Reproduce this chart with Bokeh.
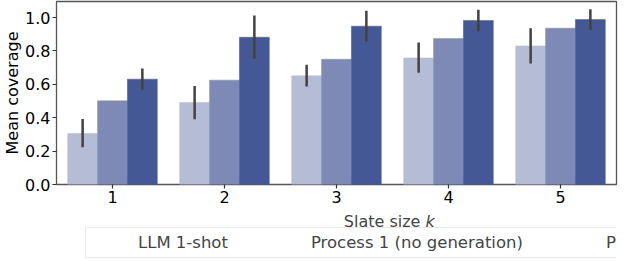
from bokeh.plotting import figure
from bokeh.layouts import column
from bokeh.models import (ColumnDataSource, Range1d, Legend, LegendItem, Label,
                          FixedTicker, PrintfTickFormatter)
from bokeh.transform import dodge
from bokeh.embed import file_html
from bokeh.resources import INLINE

slate_sizes = [1, 2, 3, 4, 5]
series_names = ["LLM 1-shot", "Process 1 (no generation)", "Process 1"]

llm_mean = [0.305, 0.491, 0.651, 0.758, 0.830]
llm_lo = [0.223, 0.391, 0.587, 0.669, 0.725]
llm_hi = [0.393, 0.590, 0.717, 0.850, 0.936]

nogen_mean = [0.501, 0.625, 0.750, 0.874, 0.936]

proc_mean = [0.631, 0.882, 0.948, 0.982, 0.988]
proc_lo = [0.567, 0.753, 0.856, 0.918, 0.926]
proc_hi = [0.695, 1.012, 1.040, 1.046, 1.050]

y_ticks = [0.0, 0.2, 0.4, 0.6, 0.8, 1.0]

colors = ["#b5bcd5", "#7e8ab5", "#445896"]
FONT = "DejaVu Sans"
FS = "16px"

src = ColumnDataSource(dict(
    k=slate_sizes,
    llm=llm_mean, llm_lo=llm_lo, llm_hi=llm_hi,
    nogen=nogen_mean,
    proc=proc_mean, proc_lo=proc_lo, proc_hi=proc_hi,
))

# ---------------- main chart ----------------
p = figure(width=640, height=210, output_backend="svg", toolbar_location=None,
           x_range=Range1d(0.5, 5.5), y_range=Range1d(0, 1.096),
           min_border_left=51, min_border_right=24, min_border_top=1,
           min_border_bottom=26)
p.background_fill_color = "white"
p.border_fill_color = "white"
p.outline_line_color = "#555555"
p.outline_line_width = 1.3
p.xgrid.visible = False
p.ygrid.visible = False

bw = 0.8 / 3
offsets = [-bw, 0.0, bw]
fields = ["llm", "nogen", "proc"]
for f, off, c in zip(fields, offsets, colors):
    p.vbar(x=dodge("k", off, range=p.x_range), top=f, bottom=0, width=bw,
           source=src, fill_color=c, line_color=c, line_width=0.5)

for lo, hi, off in [("llm_lo", "llm_hi", -bw), ("proc_lo", "proc_hi", bw)]:
    p.segment(x0=dodge("k", off, range=p.x_range), x1=dodge("k", off, range=p.x_range),
              y0=lo, y1=hi, source=src, line_color="#424242", line_width=2.5)

for ax in (p.xaxis, p.yaxis):
    ax.axis_line_color = None
    ax.major_tick_line_color = "#333333"
    ax.major_tick_line_width = 1.2
    ax.major_tick_out = 4
    ax.major_tick_in = 0
    ax.minor_tick_line_color = None
    ax.major_label_text_font = FONT
    ax.major_label_text_font_size = FS
    ax.major_label_text_color = "#000000"
    ax.axis_label_text_font = FONT
    ax.axis_label_text_font_size = FS
    ax.axis_label_text_font_style = "normal"
    ax.axis_label_text_color = "#000000"

p.xaxis.ticker = FixedTicker(ticks=slate_sizes)
p.xaxis.major_label_standoff = 2
p.yaxis.ticker = FixedTicker(ticks=y_ticks)
p.yaxis.formatter = PrintfTickFormatter(format="%.1f")
p.yaxis.major_label_standoff = 2
p.yaxis.axis_label = "Mean coverage"
p.yaxis.axis_label_standoff = 0

# ---------------- x label + legend strip ----------------
p2 = figure(width=640, height=51, output_backend="svg", toolbar_location=None,
            x_range=Range1d(0, 1), y_range=Range1d(0, 1),
            x_axis_location=None, y_axis_location=None,
            min_border=0, min_border_left=0, min_border_right=0,
            min_border_top=0, min_border_bottom=0)
p2.outline_line_color = None
p2.xgrid.visible = False
p2.ygrid.visible = False
p2.background_fill_color = "white"
p2.border_fill_color = "white"

p2.add_layout(Label(x=369, y=40, x_units="screen", y_units="screen",
                    text="Slate size ", text_font=FONT, text_font_size=FS,
                    text_align="right", text_baseline="alphabetic"))
p2.add_layout(Label(x=369, y=40, x_units="screen", y_units="screen",
                    text="k", text_font=FONT, text_font_size=FS,
                    text_font_style="italic",
                    text_align="left", text_baseline="alphabetic"))

legend_renderers = []
for c in colors:
    r = p2.vbar(x="x", top="top", width=0.1,
                source=ColumnDataSource(dict(x=[], top=[])),
                fill_color=c, line_color=c)
    legend_renderers.append(r)

legend = Legend(items=[LegendItem(label=n, renderers=[r])
                       for n, r in zip(series_names, legend_renderers)],
                orientation="horizontal", location=(29, 3),
                glyph_width=34, glyph_height=12, label_standoff=13, spacing=36,
                padding=5, margin=0,
                label_text_font=FONT, label_text_font_size="16.5px",
                border_line_color="#d6d6d6", border_line_width=1,
                background_fill_color="white", background_fill_alpha=1.0)
p2.add_layout(legend, "center")

layout = column(p, p2, spacing=0)
html = file_html(layout, INLINE)
html = html.replace("<head>", "<head><style>html,body{margin:0;padding:0;}</style>", 1)
open("out.html", "w").write(html)
